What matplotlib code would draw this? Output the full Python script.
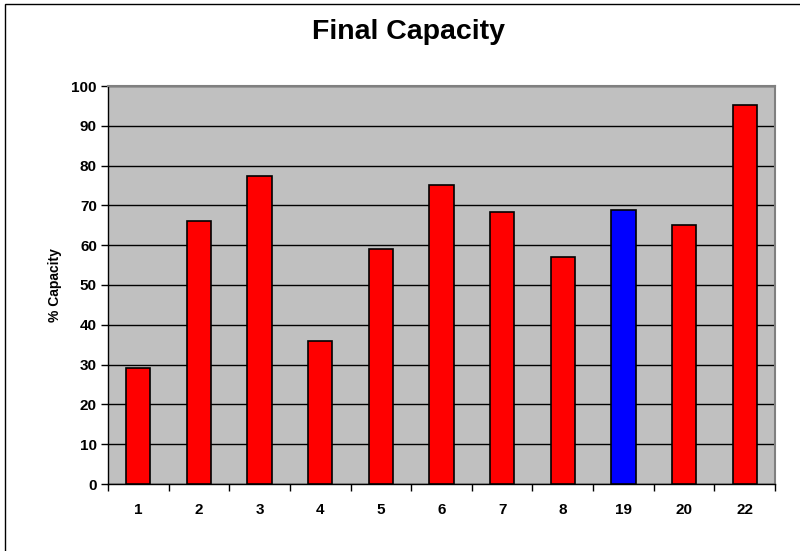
"""
plot.py

Bar chart of final capacity per unit, Excel-style look:
grey plot area, black gridlines, red bars with one highlighted in blue.
"""

import matplotlib.pyplot as plt
from matplotlib.patches import Rectangle

# ─── Data ──────────────────────────────────────────────────────────────────────
units      = ["1", "2", "3", "4", "5", "6", "7", "8", "19", "20", "22"]
capacity   = [29.1, 66.1, 77.4, 35.9, 59.0, 75.2, 68.3, 57.0, 68.8, 65.0, 95.3]
highlight  = "19"
y_ticks    = list(range(0, 101, 10))
# ────────────────────────────────────────────────────────────────────────────────

plt.rcParams["font.family"] = ["Liberation Sans", "DejaVu Sans"]
plt.rcParams["font.weight"] = "bold"

W, H = 800, 551
fig = plt.figure(figsize=(W / 100, H / 100), dpi=100)

# plot area in pixel coordinates
left, right, top, bottom = 108, 775, 86, 484
ax = fig.add_axes([left / W, 1 - bottom / H, (right - left) / W, (bottom - top) / H])
ax.set_facecolor("#c0c0c0")

xs = list(range(len(units)))
colors = ["#0000ff" if u == highlight else "#ff0000" for u in units]
ax.bar(xs, capacity, width=0.4, color=colors, edgecolor="black",
       linewidth=1.2, zorder=3)

ax.set_xlim(-0.5, len(units) - 0.5)
ax.set_ylim(0, 100)

ax.set_yticks(y_ticks)
ax.set_yticklabels([str(t) for t in y_ticks], fontsize=11, fontweight="bold")
ax.yaxis.grid(True, color="black", linewidth=1, zorder=1)
ax.set_axisbelow(True)

# category labels centred, tick marks on the category boundaries
ax.set_xticks(xs)
ax.set_xticklabels(units, fontsize=11, fontweight="bold")
ax.tick_params(axis="x", which="major", length=0, pad=14)
ax.set_xticks([x - 0.5 for x in xs] + [len(units) - 0.5], minor=True)
ax.tick_params(axis="x", which="minor", length=5, width=1, color="black",
               direction="out")
ax.tick_params(axis="y", length=5, width=1, color="black", direction="out", pad=3)

for side in ("top", "right"):
    ax.spines[side].set_color("#808080")
    ax.spines[side].set_linewidth(1.5)
for side in ("left", "bottom"):
    ax.spines[side].set_color("black")
    ax.spines[side].set_linewidth(1)

ax.set_ylabel("% Capacity", fontsize=10, fontweight="bold", labelpad=7)

fig.text(409 / W, 1 - 39 / H, "Final Capacity",
         ha="center", va="baseline", fontsize=20.5, fontweight="bold")

# outer chart border
fig.patches.append(Rectangle((5 / W, -0.01), 1.0, 1 - 4 / H + 0.01,
                             transform=fig.transFigure, fill=False,
                             edgecolor="black", linewidth=1))

fig.savefig("out.png", dpi=100)
